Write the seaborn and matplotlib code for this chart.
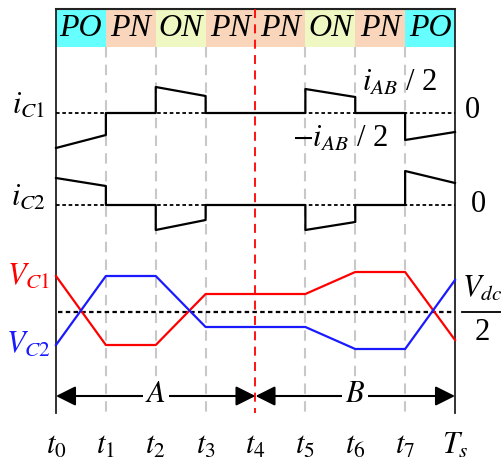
import numpy as np
import pandas as pd
import matplotlib
matplotlib.use("Agg")
import matplotlib.pyplot as plt
import seaborn as sns

# time instants t0 ... Ts and switching states of each interval
tick_labels = ['$t_0$', '$t_1$', '$t_2$', '$t_3$', '$t_4$', '$t_5$', '$t_6$', '$t_7$', '$T_s$']
states = ['PO', 'PN', 'ON', 'PN', 'PN', 'ON', 'PN', 'PO']
state_colors = {'PO': '#66ffff', 'PN': '#f9d6bb', 'ON': '#eff8c2'}

# capacitor currents: (start, end) value in each interval, positive = up
ic1_start = [-35, 0, 26, 0, 0, 24, 0, -27]
ic1_end = [-22, 0, 17, 0, 0, 16, 0, -19]
ic2_start = [27, 0, -25, 0, 0, -25, 0, 34]
ic2_end = [19, 0, -15, 0, 0, -17, 0, 22]

# capacitor voltages at t0 ... Ts, relative to Vdc/2
vc1 = [36, -33, -33, 18, 18, 18, 40, 40, -28]
vc2 = [-33, 36, 36, -15, -15, -15, -37, -37, 32]

# vertical layout (pixel-like units, top = 0)
top, head_bot, bottom = 9, 47, 413
ic1_base, ic2_base, vdc_base = 113, 205, 312
arrow_y = 396
px_per_t = 49.875
x0 = 56
fs = 22

plt.rcParams['mathtext.fontset'] = 'stix'
plt.rcParams['font.family'] = ['Liberation Serif', 'DejaVu Serif']

fig = plt.figure(figsize=(5.02, 4.63), dpi=100)
ax = fig.add_axes([0, 0, 1, 1])

t = np.arange(len(tick_labels))
n = len(states)

# header with switching states
ax.bar(t[:-1] + 0.5, head_bot - top, bottom=top, width=1.0,
       color=[state_colors[s] for s in states], linewidth=0)
for i, s in enumerate(states):
    ax.text(i + 0.5, (top + head_bot) / 2 + 1, s, ha='center', va='center',
            fontsize=23, style='italic')
ax.plot([0, n], [top, top], color='#222222', lw=1.5)

# frame and grid lines
for xi in [0, n]:
    ax.plot([xi, xi], [top, bottom], color='#222222', lw=1.3)
for xi in t[1:-1]:
    if xi == 4:
        continue
    ax.plot([xi, xi], [head_bot, bottom], color='#c8c8c8', lw=1.5, ls=(0, (5, 3.5)))
ax.plot([4, 4], [top, bottom], color='#ff0000', lw=1.3, ls=(0, (5, 3.5)))

# zero / reference lines
for yb in [ic1_base, ic2_base]:
    ax.plot([0, n], [yb, yb], color='black', lw=1.3, ls=(0, (2, 1.5)))
ax.plot([0.05, n], [vdc_base, vdc_base], color='black', lw=1.6, ls=(0, (2, 1.5)))


def step_wave(start, end, base):
    xs, ys = [], []
    for i in range(len(start)):
        xs += [i, i + 1]
        ys += [base - start[i], base - end[i]]
    return pd.DataFrame({'x': xs, 'y': ys})


for st, en, base in [(ic1_start, ic1_end, ic1_base), (ic2_start, ic2_end, ic2_base)]:
    df = step_wave(st, en, base)
    sns.lineplot(data=df, x='x', y='y', ax=ax, estimator=None, sort=False,
                 color='black', lw=1.6)

vdf = pd.DataFrame({'x': t, 'vc1': vdc_base - np.array(vc1), 'vc2': vdc_base - np.array(vc2)})
sns.lineplot(data=vdf, x='x', y='vc1', ax=ax, color='#ff0000', lw=1.6, estimator=None)
sns.lineplot(data=vdf, x='x', y='vc2', ax=ax, color='#1a1aff', lw=1.6, estimator=None)
ax.set_xlim(-x0 / px_per_t, (502 - x0) / px_per_t)
ax.set_ylim(463, 0)
ax.axis('off')

# A / B interval arrows
for xa, xb, lab in [(0, 4, 'A'), (4, 8, 'B')]:
    ax.annotate('', xy=(xa, arrow_y), xytext=(xb, arrow_y),
                arrowprops=dict(arrowstyle='<|-|>', color='black', lw=1.5,
                                mutation_scale=30, shrinkA=0, shrinkB=0))
    ax.text((xa + xb) / 2, arrow_y - 1, '$' + lab + '$', ha='center', va='center', fontsize=fs,
            bbox=dict(facecolor='white', edgecolor='none', pad=2))

# time labels
for xi, lab in zip(t, tick_labels):
    ax.text(xi, 446, lab, ha='center', va='center', fontsize=fs)

# left labels
ax.text(-0.55, ic1_base - 8, '$i_{C1}$', ha='center', va='center', fontsize=fs)
ax.text(-0.55, ic2_base - 8, '$i_{C2}$', ha='center', va='center', fontsize=fs)
ax.text(-0.55, 276, '$V_{C1}$', ha='center', va='center', fontsize=fs, color='#ff0000')
ax.text(-0.55, 344, '$V_{C2}$', ha='center', va='center', fontsize=fs, color='#1a1aff')

# right labels
ax.text(6.9, 83, '$i_{AB}$ / 2', ha='center', va='center', fontsize=fs)
ax.text(5.7, 139, '$-i_{AB}$ / 2', ha='center', va='center', fontsize=fs)
ax.text(8.35, ic1_base - 2, '0', ha='center', va='center', fontsize=fs)
ax.text(8.46, ic2_base - 1, '0', ha='center', va='center', fontsize=fs)
ax.text(8.55, 289, '$V_{dc}$', ha='center', va='center', fontsize=fs)
ax.plot([8.14, 8.94], [vdc_base, vdc_base], color='black', lw=1.3)
ax.text(8.55, 333, '2', ha='center', va='center', fontsize=fs)

fig.savefig('out.png', dpi=100)
